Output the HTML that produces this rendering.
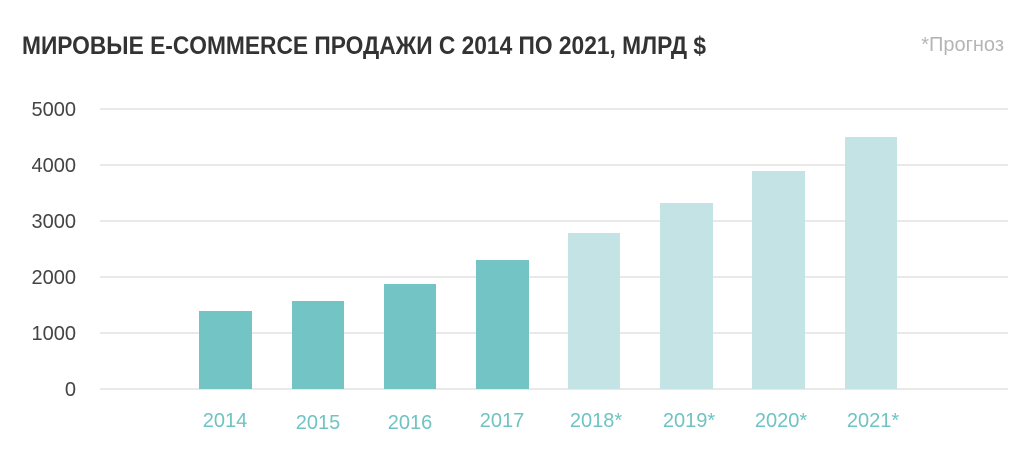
<!DOCTYPE html>
<html><head><meta charset="utf-8"><style>
html,body{margin:0;padding:0;background:#fff;}
svg{display:block;}
</style></head><body>
<svg width="1024" height="461" xmlns="http://www.w3.org/2000/svg" font-family="Liberation Sans, sans-serif">
<text x="22" y="54" font-size="25" font-weight="bold" fill="#333" textLength="684" lengthAdjust="spacingAndGlyphs">МИРОВЫЕ E-COMMERCE ПРОДАЖИ С 2014 ПО 2021, МЛРД $</text>
<text x="1004" y="51" font-size="20" fill="#b5b5b5" text-anchor="end">*Прогноз</text>
<g stroke="#e2e2e2" stroke-width="1.5">
<line x1="100" x2="1008" y1="109" y2="109"/>
<line x1="100" x2="1008" y1="165" y2="165"/>
<line x1="100" x2="1008" y1="221" y2="221"/>
<line x1="100" x2="1008" y1="277" y2="277"/>
<line x1="100" x2="1008" y1="333" y2="333"/>
<line x1="100" x2="1008" y1="389" y2="389"/>
</g>
<g font-size="20" fill="#444" text-anchor="end">
<text x="76" y="116">5000</text>
<text x="76" y="172">4000</text>
<text x="76" y="228">3000</text>
<text x="76" y="284">2000</text>
<text x="76" y="340">1000</text>
<text x="76" y="396">0</text>
</g>
<g fill="#72c4c5">
<rect x="199" y="311" width="53" height="78"/>
<rect x="292" y="301" width="52" height="88"/>
<rect x="384" y="284" width="52" height="105"/>
<rect x="476" y="260" width="53" height="129"/>
</g>
<g fill="#c4e3e5">
<rect x="568" y="233" width="52" height="156"/>
<rect x="660" y="203" width="53" height="186"/>
<rect x="752" y="171" width="53" height="218"/>
<rect x="845" y="137" width="52" height="252"/>
</g>
<g font-size="20" fill="#6fc3c3" text-anchor="middle">
<text x="225" y="427">2014</text>
<text x="318" y="429">2015</text>
<text x="410" y="429">2016</text>
<text x="502" y="427">2017</text>
<text x="596" y="427">2018*</text>
<text x="689" y="427">2019*</text>
<text x="781" y="427">2020*</text>
<text x="873" y="427">2021*</text>
</g>
</svg>
</body></html>
